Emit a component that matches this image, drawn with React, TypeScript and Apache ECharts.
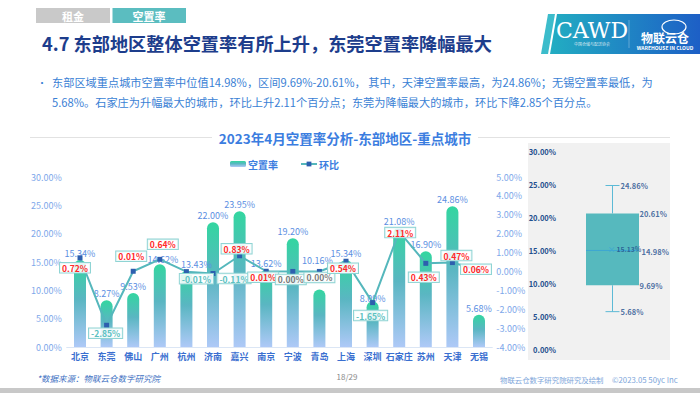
import React, { useEffect, useRef } from 'react';
import * as echarts from 'echarts';

const cities = ['北京', '东莞', '佛山', '广州', '杭州', '济南', '嘉兴', '南京', '宁波', '青岛', '上海', '深圳', '石家庄', '苏州', '天津', '无锡'];
const vacancyRate = [15.34, 8.27, 9.53, 14.62, 13.43, 22.0, 23.95, 13.62, 19.2, 10.16, 15.34, 8.09, 21.08, 16.9, 24.86, 5.68];
const momChange = [0.72, -2.85, 0.01, 0.64, -0.01, -0.11, 0.83, 0.01, 0.0, 0.0, 0.54, -1.65, 2.11, 0.43, 0.47, 0.06];
const boxStats = [5.68, 9.69, 14.98, 20.61, 24.86]; // min, q1, median, q3, max
const boxMean = 15.13;
const boxCategory = ['东部地区'];

const seriesNames = ['空置率', '环比'];
const pageTitle = '4.7 东部地区整体空置率有所上升，东莞空置率降幅最大';
const chartTitle = '2023年4月空置率分析-东部地区-重点城市';
const bulletLine1 = '东部区域重点城市空置率中位值14.98%，区间9.69%-20.61%， 其中，天津空置率最高，为24.86%；无锡空置率最低，为';
const bulletLine2 = '5.68%。石家庄为升幅最大的城市，环比上升2.11个百分点；东莞为降幅最大的城市，环比下降2.85个百分点。';

// label placement (style only)
const lineLabelOffsets = [[-5, 10], [-1, 8], [-2, -15], [3, -15], [10, 7], [21, 5], [-3, -7], [-3, 6], [-2, 8], [0, 6], [-3, 7], [-2, 13], [1, 1], [-2, 14], [4, -7], [-3, -1]];
const barLabelOffsets: Record<number, number[]> = { 3: [3, 2], 4: [10, 0], 9: [-2, -22], 11: [0, 4] };

const FONT = '"Noto Sans CJK SC", "Noto Sans", sans-serif';

export default function App() {
  const ref = useRef<HTMLDivElement>(null);
  useEffect(() => {
    if (!ref.current) return;
    const chart = echarts.init(ref.current, undefined, { renderer: 'svg' });
    const barGrad = new echarts.graphic.LinearGradient(0, 0, 0, 1, [
      { offset: 0, color: '#33d6a0' },
      { offset: 0.45, color: '#5ab6c2' },
      { offset: 1, color: '#aec9f7' },
    ]);
    const fmt = (v: number) => v.toFixed(2) + '%';

    const barData = vacancyRate.map((v, i) => {
      const o = barLabelOffsets[i];
      return o ? { value: v, label: { offset: o } } : { value: v };
    });
    const lineData = momChange.map((v, i) => ({
      value: v,
      label: {
        offset: lineLabelOffsets[i],
        color: v > 0 ? '#ff2a2a' : v < 0 ? '#5cc1c1' : '#7a7a7a',
      },
    }));

    const boxLabelData = [
      { value: [0, boxStats[4]], label: { offset: [8, 0] } },
      { value: [0, boxStats[3]], label: { offset: [27, 0] } },
      { value: [0, boxStats[2]], label: { offset: [29, 1] } },
      { value: [0, boxStats[1]], label: { offset: [27, 0] } },
      { value: [0, boxStats[0]], label: { offset: [8, 0] } },
    ];

    const option: any = {
      animation: false,
      textStyle: { fontFamily: FONT },
      legend: {
        data: seriesNames,
        left: 225,
        top: 154,
        itemWidth: 16,
        itemHeight: 6,
        itemGap: 22,
        textStyle: { color: '#3b7de0', fontSize: 10, fontWeight: 'bold', fontFamily: FONT, padding: [0, 0, 0, -3] },
      },
      grid: [
        { left: 66.7, right: 207.7, top: 177, height: 170 },
        { left: 560, width: 105, top: 151.7, height: 197.3 },
      ],
      xAxis: [
        {
          type: 'category',
          data: cities,
          gridIndex: 0,
          axisLine: { lineStyle: { color: '#dbe6f5' } },
          axisTick: { show: false },
          axisLabel: { color: '#3a6fd0', fontSize: 9, fontWeight: 'bold', margin: 5, interval: 0, fontFamily: FONT },
        },
        {
          type: 'category',
          data: boxCategory,
          gridIndex: 1,
          show: false,
        },
      ],
      yAxis: [
        {
          type: 'value',
          gridIndex: 0,
          min: 0,
          max: 30,
          interval: 5,
          splitLine: { show: false },
          axisLine: { show: false },
          axisTick: { show: false },
          axisLabel: { color: '#7ea8ea', fontSize: 9, margin: 5, formatter: fmt, fontFamily: FONT },
        },
        {
          type: 'value',
          gridIndex: 0,
          position: 'right',
          min: -4,
          max: 5,
          interval: 1,
          splitLine: { show: false },
          axisLine: { show: false },
          axisTick: { show: false },
          axisLabel: { color: '#7ea8ea', fontSize: 9, margin: 4, formatter: fmt, fontFamily: FONT },
        },
        {
          type: 'value',
          gridIndex: 1,
          min: 0,
          max: 30,
          interval: 5,
          splitLine: { show: false },
          axisLine: { show: false },
          axisTick: { show: false },
          axisLabel: { color: '#1f4f8e', fontSize: 7.5, fontWeight: 'bold', margin: 4, formatter: fmt, fontFamily: FONT },
        },
      ],
      series: [
        {
          name: seriesNames[0],
          type: 'bar',
          xAxisIndex: 0,
          yAxisIndex: 0,
          data: barData,
          barWidth: 12,
          itemStyle: { color: barGrad, borderRadius: [6, 6, 0, 0] },
          label: {
            show: true,
            position: 'top',
            distance: 2,
            color: '#5b8fe2',
            fontSize: 9,
            fontFamily: FONT,
            formatter: (p: any) => fmt(p.value),
          },
          z: 2,
        },
        {
          name: seriesNames[1],
          type: 'line',
          xAxisIndex: 0,
          yAxisIndex: 1,
          data: lineData,
          symbol: 'rect',
          symbolSize: 5,
          itemStyle: { color: '#2d5fae' },
          lineStyle: { color: '#55b7bc', width: 2 },
          label: {
            show: true,
            position: 'inside',
            fontSize: 8.5,
            fontWeight: 'bold',
            fontFamily: FONT,
            backgroundColor: 'rgba(255,255,255,0.85)',
            borderColor: '#8fd4d4',
            borderWidth: 1,
            padding: [1, 2, 0, 2],
            formatter: (p: any) => fmt(p.value),
          },
          labelLine: { show: false },
          z: 5,
        },
        {
          type: 'custom',
          xAxisIndex: 1,
          yAxisIndex: 2,
          data: [[0, ...boxStats]],
          encode: { x: 0, y: [1, 2, 3, 4, 5] },
          renderItem: (params: any, api: any) => {
            const xc = api.coord([0, 0])[0];
            const ys = [1, 2, 3, 4, 5].map((i) => api.coord([0, api.value(i)])[1]);
            const [yMin, yQ1, yMed, yQ3, yMax] = ys;
            const hw = 26.5;
            const cw = 7;
            const ws = { stroke: '#5cbad6', lineWidth: 1 };
            return {
              type: 'group',
              children: [
                { type: 'line', shape: { x1: xc, y1: yMax, x2: xc, y2: yQ3 }, style: ws },
                { type: 'line', shape: { x1: xc - cw, y1: yMax, x2: xc + cw, y2: yMax }, style: ws },
                { type: 'line', shape: { x1: xc, y1: yQ1, x2: xc, y2: yMin }, style: ws },
                { type: 'line', shape: { x1: xc - cw, y1: yMin, x2: xc + cw, y2: yMin }, style: ws },
                { type: 'rect', shape: { x: xc - hw, y: yQ3, width: hw * 2, height: yQ1 - yQ3 }, style: { fill: '#56b9be' } },
                { type: 'line', shape: { x1: xc - hw, y1: yMed, x2: xc + hw, y2: yMed }, style: { stroke: '#3ea7d2', lineWidth: 1 } },
              ],
            };
          },
          z: 3,
        },
        {
          type: 'scatter',
          xAxisIndex: 1,
          yAxisIndex: 2,
          symbolSize: 0,
          data: boxLabelData,
          label: {
            show: true,
            position: 'right',
            distance: 0,
            color: '#1f4f8e',
            fontSize: 7.5,
            fontWeight: 'bold',
            fontFamily: FONT,
            formatter: (p: any) => fmt(p.value[1]),
          },
          z: 6,
        },
        {
          type: 'scatter',
          xAxisIndex: 1,
          yAxisIndex: 2,
          symbolSize: 0,
          data: [{ value: [0, boxMean] }],
          label: {
            show: true,
            position: 'right',
            distance: 0,
            offset: [-5, 0],
            fontSize: 6.8,
            fontWeight: 'bold',
            fontFamily: FONT,
            formatter: (p: any) => '{x|×}' + fmt(p.value[1]),
            color: '#1f4f8e',
            rich: { x: { color: '#3ea7d2', fontSize: 8, padding: [0, 1, 0, 0] } },
          },
          z: 6,
        },
      ],
      graphic: [
        // tabs
        { type: 'rect', shape: { x: 36, y: 8, width: 74, height: 15 }, style: { fill: '#c9c9c9' } },
        { type: 'text', x: 73, y: 15.5, style: { text: '租金', fill: '#fff', font: `bold 11px ${FONT}`, align: 'center', verticalAlign: 'middle' } },
        { type: 'rect', shape: { x: 112.5, y: 8, width: 73.5, height: 15 }, style: { fill: '#5bbdc0' } },
        { type: 'text', x: 149, y: 15.5, style: { text: '空置率', fill: '#fff', font: `bold 11px ${FONT}`, align: 'center', verticalAlign: 'middle' } },
        // page title
        { type: 'text', x: 42, y: 43, style: { text: pageTitle, fill: '#1d3d8c', font: `bold 18.2px ${FONT}`, verticalAlign: 'middle' } },
        // logo
        { type: 'polygon', shape: { points: [[548, 14], [555, 14], [548, 54], [541, 54]] }, style: { fill: '#3cbccb' } },
        {
          type: 'polygon',
          shape: { points: [[557, 14], [700, 14], [700, 54], [550, 54]] },
          style: {
            fill: new echarts.graphic.LinearGradient(0, 0, 1, 0, [
              { offset: 0, color: '#22adc2' },
              { offset: 1, color: '#1d5fc6' },
            ]),
          },
        },
        { type: 'text', x: 592, y: 30, style: { text: 'CAWD', fill: '#fff', font: `22px "DejaVu Serif", serif`, align: 'center', verticalAlign: 'middle' } },
        { type: 'text', x: 592, y: 44, style: { text: '中国仓储与配送协会', fill: 'rgba(255,255,255,0.8)', font: `4px ${FONT}`, align: 'center', verticalAlign: 'middle' } },
        { type: 'line', shape: { x1: 629, y1: 20, x2: 629, y2: 48 }, style: { stroke: 'rgba(255,255,255,0.5)', lineWidth: 0.6 } },
        { type: 'ellipse', shape: { cx: 674, cy: 27, rx: 12, ry: 7 }, style: { fill: 'none', stroke: '#fff', lineWidth: 1.2 } },
        { type: 'text', x: 665, y: 37, style: { text: '物联云仓', fill: '#fff', font: `bold 12px ${FONT}`, align: 'center', verticalAlign: 'middle' } },
        { type: 'text', x: 665, y: 47.5, style: { text: 'WAREHOUSE IN CLOUD', fill: '#fff', font: `bold 5px ${FONT}`, align: 'center', verticalAlign: 'middle' } },
        // bullet text
        { type: 'text', x: 37, y: 82, style: { text: '•', fill: '#3a7fd5', font: `10px ${FONT}`, verticalAlign: 'middle' } },
        { type: 'text', x: 52, y: 82, style: { text: bulletLine1, fill: '#3a7fd5', font: `11.2px ${FONT}`, verticalAlign: 'middle' } },
        { type: 'text', x: 52, y: 102, style: { text: bulletLine2, fill: '#3a7fd5', font: `11.2px ${FONT}`, verticalAlign: 'middle' } },
        // chart title
        { type: 'line', shape: { x1: 30, y1: 137.5, x2: 212, y2: 137.5 }, style: { stroke: '#e2e2e2', lineWidth: 1 } },
        { type: 'line', shape: { x1: 478, y1: 137.5, x2: 670, y2: 137.5 }, style: { stroke: '#e2e2e2', lineWidth: 1 } },
        { type: 'text', x: 345, y: 138, style: { text: chartTitle, fill: '#3b7de0', font: `bold 13.5px ${FONT}`, align: 'center', verticalAlign: 'middle' } },
        // box panel background
        { type: 'rect', shape: { x: 528, y: 143, width: 142, height: 217 }, style: { fill: '#f1f1f1' }, z: -1 },
        // footer
        { type: 'text', x: 37, y: 378, style: { text: '*数据来源：物联云仓数字研究院', fill: '#3d6fc2', font: `italic 8.5px ${FONT}`, verticalAlign: 'middle' } },
        { type: 'text', x: 347, y: 376, style: { text: '18/29', fill: '#8a8a8a', font: `8px ${FONT}`, align: 'center', verticalAlign: 'middle' } },
        { type: 'text', x: 500, y: 379, style: { text: '物联云仓数字研究院研究及绘制', fill: '#7ea6da', font: `7.4px ${FONT}`, verticalAlign: 'middle' } },
        { type: 'text', x: 612, y: 379, style: { text: '©2023.05 50yc Inc', fill: '#7ea6da', font: `7.8px ${FONT}`, verticalAlign: 'middle' } },
        { type: 'rect', shape: { x: 0, y: 388, width: 700, height: 5 }, style: { fill: '#c8c8c8' } },
      ],
    };
    chart.setOption(option);
    return () => chart.dispose();
  }, []);
  return <div ref={ref} style={{ position: 'absolute', left: 0, top: 0, width: 700, height: 393, background: '#fff' }} />;
}
